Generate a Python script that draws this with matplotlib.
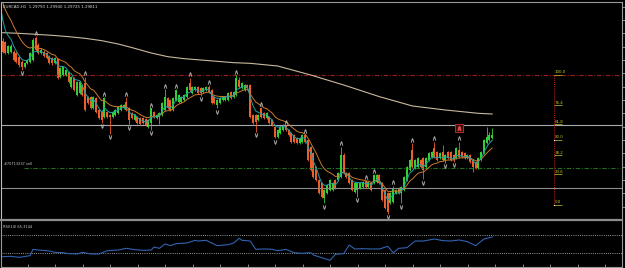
import matplotlib
matplotlib.use("Agg")
import matplotlib.pyplot as plt
import numpy as np
import pandas as pd
from matplotlib.ticker import MultipleLocator, FixedLocator

# ---------------- data ----------------
title_text = "EURCAD,H1  1.29790 1.29940 1.29725 1.29811"
rsi_text = "RSI(14) 65.3144"
order_text = "#70713237 sell"

open_ = [1.30938, 1.30935, 1.30900, 1.30905, 1.30905, 1.30900, 1.30890, 1.30875, 1.30860, 1.30870,
         1.30875, 1.30880, 1.30945, 1.30925, 1.30900, 1.30905, 1.30900, 1.30890, 1.30885, 1.30870,
         1.30882, 1.30830, 1.30835, 1.30835, 1.30845, 1.30800, 1.30825, 1.30775, 1.30780, 1.30805,
         1.30810, 1.30770, 1.30770, 1.30735, 1.30765, 1.30730, 1.30725, 1.30710, 1.30725, 1.30715,
         1.30710, 1.30715, 1.30720, 1.30730, 1.30735, 1.30755, 1.30735, 1.30720, 1.30700, 1.30710,
         1.30705, 1.30705, 1.30702, 1.30680, 1.30690, 1.30725, 1.30705, 1.30710, 1.30715, 1.30730,
         1.30765, 1.30760, 1.30730, 1.30760, 1.30755, 1.30755, 1.30760, 1.30770, 1.30810, 1.30780,
         1.30790, 1.30800, 1.30795, 1.30785, 1.30790, 1.30800, 1.30790, 1.30770, 1.30745, 1.30750,
         1.30760, 1.30760, 1.30760, 1.30785, 1.30770, 1.30775, 1.30820, 1.30795, 1.30790, 1.30805,
         1.30805, 1.30715, 1.30715, 1.30700, 1.30735, 1.30720, 1.30705, 1.30710, 1.30700, 1.30680,
         1.30650, 1.30660, 1.30670, 1.30682, 1.30670, 1.30660, 1.30655, 1.30645, 1.30630, 1.30635,
         1.30655, 1.30640, 1.30620, 1.30600, 1.30560, 1.30520, 1.30510, 1.30465, 1.30480, 1.30490,
         1.30490, 1.30520, 1.30520, 1.30530, 1.30595, 1.30540, 1.30540, 1.30520, 1.30485, 1.30490,
         1.30495, 1.30500, 1.30517, 1.30500, 1.30510, 1.30510, 1.30515, 1.30535, 1.30510, 1.30490,
         1.30480, 1.30450, 1.30455, 1.30480, 1.30495, 1.30480, 1.30490, 1.30520, 1.30550, 1.30610,
         1.30555, 1.30560, 1.30580, 1.30585, 1.30560, 1.30580, 1.30590, 1.30615, 1.30605, 1.30585,
         1.30605, 1.30580, 1.30605, 1.30605, 1.30595, 1.30585, 1.30610, 1.30605, 1.30600, 1.30585,
         1.30595, 1.30580, 1.30575, 1.30555, 1.30580, 1.30600, 1.30630, 1.30640, 1.30645]

high = [1.30945, 1.30938, 1.30925, 1.30928, 1.30910, 1.30903, 1.30895, 1.30880, 1.30875, 1.30883,
        1.30905, 1.30945, 1.30952, 1.30930, 1.30915, 1.30910, 1.30903, 1.30895, 1.30890, 1.30888,
        1.30885, 1.30860, 1.30863, 1.30853, 1.30848, 1.30833, 1.30828, 1.30818, 1.30818, 1.30808,
        1.30830, 1.30773, 1.30773, 1.30773, 1.30768, 1.30733, 1.30728, 1.30768, 1.30728, 1.30718,
        1.30728, 1.30733, 1.30743, 1.30748, 1.30748, 1.30768, 1.30738, 1.30723, 1.30718, 1.30713,
        1.30708, 1.30708, 1.30705, 1.30703, 1.30735, 1.30728, 1.30718, 1.30723, 1.30753, 1.30792,
        1.30768, 1.30763, 1.30768, 1.30792, 1.30778, 1.30773, 1.30778, 1.30803, 1.30827, 1.30803,
        1.30803, 1.30803, 1.30798, 1.30798, 1.30803, 1.30805, 1.30793, 1.30773, 1.30763, 1.30768,
        1.30773, 1.30773, 1.30783, 1.30788, 1.30788, 1.30835, 1.30828, 1.30813, 1.30808, 1.30808,
        1.30808, 1.30718, 1.30718, 1.30718, 1.30737, 1.30723, 1.30723, 1.30713, 1.30703, 1.30683,
        1.30673, 1.30683, 1.30688, 1.30685, 1.30673, 1.30663, 1.30658, 1.30648, 1.30648, 1.30658,
        1.30657, 1.30643, 1.30623, 1.30603, 1.30563, 1.30523, 1.30513, 1.30493, 1.30508, 1.30523,
        1.30513, 1.30523, 1.30543, 1.30620, 1.30600, 1.30545, 1.30543, 1.30523, 1.30513, 1.30513,
        1.30513, 1.30518, 1.30520, 1.30518, 1.30513, 1.30538, 1.30538, 1.30538, 1.30513, 1.30493,
        1.30483, 1.30483, 1.30503, 1.30493, 1.30498, 1.30503, 1.30533, 1.30563, 1.30583, 1.30630,
        1.30583, 1.30588, 1.30583, 1.30588, 1.30588, 1.30603, 1.30608, 1.30635, 1.30608, 1.30603,
        1.30625, 1.30598, 1.30608, 1.30608, 1.30598, 1.30618, 1.30635, 1.30608, 1.30603, 1.30598,
        1.30598, 1.30583, 1.30578, 1.30588, 1.30608, 1.30643, 1.30678, 1.30665, 1.30675]

low = [1.30902, 1.30897, 1.30897, 1.30902, 1.30877, 1.30872, 1.30860, 1.30850, 1.30857, 1.30867,
       1.30872, 1.30878, 1.30907, 1.30897, 1.30897, 1.30889, 1.30882, 1.30867, 1.30866, 1.30867,
       1.30822, 1.30827, 1.30832, 1.30832, 1.30812, 1.30797, 1.30787, 1.30772, 1.30777, 1.30772,
       1.30728, 1.30747, 1.30732, 1.30732, 1.30722, 1.30702, 1.30692, 1.30707, 1.30707, 1.30658,
       1.30707, 1.30712, 1.30717, 1.30727, 1.30732, 1.30727, 1.30685, 1.30702, 1.30697, 1.30687,
       1.30685, 1.30687, 1.30682, 1.30677, 1.30670, 1.30707, 1.30702, 1.30688, 1.30712, 1.30727,
       1.30732, 1.30727, 1.30727, 1.30757, 1.30752, 1.30752, 1.30757, 1.30767, 1.30787, 1.30777,
       1.30787, 1.30777, 1.30772, 1.30782, 1.30787, 1.30782, 1.30747, 1.30747, 1.30735, 1.30747,
       1.30757, 1.30757, 1.30757, 1.30762, 1.30767, 1.30772, 1.30797, 1.30792, 1.30787, 1.30792,
       1.30707, 1.30687, 1.30665, 1.30697, 1.30707, 1.30702, 1.30702, 1.30687, 1.30682, 1.30645,
       1.30647, 1.30657, 1.30667, 1.30667, 1.30652, 1.30632, 1.30632, 1.30627, 1.30627, 1.30632,
       1.30632, 1.30577, 1.30547, 1.30527, 1.30517, 1.30477, 1.30467, 1.30450, 1.30477, 1.30487,
       1.30487, 1.30492, 1.30517, 1.30527, 1.30537, 1.30527, 1.30507, 1.30487, 1.30482, 1.30470,
       1.30492, 1.30497, 1.30497, 1.30497, 1.30487, 1.30507, 1.30512, 1.30507, 1.30457, 1.30432,
       1.30419, 1.30447, 1.30452, 1.30477, 1.30477, 1.30450, 1.30487, 1.30517, 1.30547, 1.30557,
       1.30552, 1.30557, 1.30557, 1.30522, 1.30557, 1.30577, 1.30587, 1.30587, 1.30577, 1.30582,
       1.30577, 1.30572, 1.30582, 1.30577, 1.30575, 1.30582, 1.30587, 1.30587, 1.30582, 1.30582,
       1.30572, 1.30545, 1.30552, 1.30552, 1.30577, 1.30597, 1.30627, 1.30637, 1.30642]

close = [1.30905, 1.30900, 1.30922, 1.30922, 1.30880, 1.30875, 1.30865, 1.30860, 1.30872, 1.30880,
         1.30900, 1.30940, 1.30910, 1.30900, 1.30910, 1.30892, 1.30885, 1.30870, 1.30870, 1.30885,
         1.30825, 1.30855, 1.30860, 1.30850, 1.30815, 1.30830, 1.30790, 1.30815, 1.30815, 1.30775,
         1.30730, 1.30750, 1.30735, 1.30770, 1.30725, 1.30705, 1.30700, 1.30765, 1.30710, 1.30710,
         1.30725, 1.30730, 1.30740, 1.30745, 1.30745, 1.30730, 1.30700, 1.30705, 1.30715, 1.30690,
         1.30688, 1.30690, 1.30685, 1.30700, 1.30735, 1.30710, 1.30715, 1.30720, 1.30750, 1.30770,
         1.30735, 1.30730, 1.30765, 1.30790, 1.30775, 1.30770, 1.30775, 1.30800, 1.30790, 1.30800,
         1.30800, 1.30780, 1.30780, 1.30795, 1.30800, 1.30785, 1.30750, 1.30750, 1.30760, 1.30765,
         1.30770, 1.30770, 1.30780, 1.30765, 1.30785, 1.30825, 1.30800, 1.30810, 1.30805, 1.30795,
         1.30710, 1.30690, 1.30695, 1.30715, 1.30710, 1.30705, 1.30720, 1.30690, 1.30685, 1.30650,
         1.30670, 1.30680, 1.30685, 1.30670, 1.30655, 1.30635, 1.30635, 1.30630, 1.30645, 1.30655,
         1.30635, 1.30580, 1.30550, 1.30530, 1.30520, 1.30480, 1.30470, 1.30490, 1.30505, 1.30520,
         1.30510, 1.30495, 1.30540, 1.30595, 1.30540, 1.30530, 1.30510, 1.30490, 1.30510, 1.30510,
         1.30510, 1.30515, 1.30500, 1.30515, 1.30490, 1.30535, 1.30535, 1.30510, 1.30460, 1.30435,
         1.30425, 1.30480, 1.30495, 1.30490, 1.30480, 1.30500, 1.30530, 1.30560, 1.30580, 1.30560,
         1.30580, 1.30585, 1.30560, 1.30550, 1.30585, 1.30600, 1.30605, 1.30590, 1.30580, 1.30600,
         1.30580, 1.30595, 1.30585, 1.30580, 1.30580, 1.30615, 1.30590, 1.30590, 1.30585, 1.30595,
         1.30575, 1.30560, 1.30555, 1.30585, 1.30605, 1.30640, 1.30650, 1.30655, 1.30655]

# moving averages (fast / medium EMAs start from the level before the first visible bar)
fast_ma_seed = 1.31050
mid_ma_seed = 1.31080
fast_ma_span = 5
mid_ma_span = 12

# slow moving average read at sample bars
slow_ma_idx = [0, 6, 12, 18, 24, 30, 36, 42, 48, 54, 60, 66, 72, 78, 84, 90, 100, 112, 124, 137,
               149, 161, 173, 178]
slow_ma_val = [1.30962, 1.30960, 1.30957, 1.30954, 1.30950, 1.30945, 1.30938, 1.30928, 1.30915,
               1.30901, 1.30890, 1.30884, 1.30880, 1.30876, 1.30872, 1.30870, 1.30862, 1.30835,
               1.30805, 1.30770, 1.30742, 1.30730, 1.30720, 1.30718]

# fractals (bar indices)
fractal_up = [12, 30, 37, 45, 54, 59, 63, 68, 75, 85, 94, 103, 110, 123, 132, 135, 142, 149, 157, 166]
fractal_down = [7, 36, 39, 46, 54, 72, 78, 92, 99, 117, 129, 140, 145, 153, 161, 164]

# horizontal levels
stop_level = 1.30836
order_level = 1.30557
hline_levels = [1.30685, 1.30496]

# fibonacci object
fib_high = 1.30836
fib_low = 1.30445
fib_bar = 200.5
fib_ratios = [100.0, 76.4, 61.8, 50.0, 38.2, 23.6, 0.0]

# alert box
alert_bar = 166
alert_price = 1.30675

# RSI samples
rsi_idx = [0, 3, 6, 10, 11, 13, 17, 19, 22, 24, 27, 29, 32, 35, 38, 42, 45, 48, 51, 54, 55, 57, 59,
           61, 63, 67, 70, 71, 74, 76, 78, 82, 84, 86, 87, 90, 92, 95, 98, 100, 103, 106, 109, 112,
           113, 116, 119, 121, 124, 126, 128, 131, 134, 137, 140, 142, 144, 147, 150, 153, 157, 160,
           163, 166, 169, 172, 175, 178]
rsi_val = [22.5, 23.3, 21.0, 24.7, 38.8, 37.3, 35.1, 32.1, 31.4, 29.2, 28.4, 32.1, 28.4, 28.4, 35.8,
           37.3, 41.0, 38.1, 36.6, 37.3, 44.0, 41.0, 50.7, 47.0, 51.4, 52.9, 58.8, 57.3, 58.8, 52.9,
           47.0, 49.2, 52.9, 63.3, 58.8, 57.3, 38.8, 39.6, 39.0, 35.8, 38.8, 31.4, 29.9, 31.4, 26.2,
           20.3, 14.4, 27.7, 29.2, 48.4, 39.6, 40.3, 39.6, 39.6, 45.5, 31.4, 41.0, 42.5, 57.3, 57.3,
           61.8, 58.1, 57.3, 59.6, 55.8, 47.0, 61.8, 66.2]
rsi_levels = [70, 30]

# ---------------- style ----------------
BG = "black"
BULL = "#34cf34"
BEAR = "#ec5f2a"
FAST_C = "#1fa0a6"
MID_C = "#c87a2e"
SLOW_C = "#c9b99c"
FRACTAL_GAP = 0.00010

o = np.array(open_); h = np.array(high); l = np.array(low); c = np.array(close)
n = len(c)
idx = np.arange(n)

fig = plt.figure(figsize=(6.25, 2.68), dpi=100, facecolor=BG)
ax = fig.add_axes([1 / 625, 49 / 268, 621 / 625, 217 / 268])
ax.set_facecolor(BG)
ax.set_xlim(-0.618, 225.2)
ax.set_ylim(1.30403, 1.31054)

# horizontal lines
ax.hlines(stop_level, -0.6, 224.5, colors="#9c1c1c", lw=0.8, linestyles=(0, (4, 1.5, 1, 1.5)))
ax.hlines(order_level, 7.8, 224.5, colors="#1f6f1f", lw=0.8, linestyles=(0, (4, 1.5, 1, 1.5)))
ax.axhline(hline_levels[0], color="#a4acb0", lw=0.8)
ax.axhline(hline_levels[1], color="#8c8c8c", lw=0.8)

# slow MA
ax.plot(slow_ma_idx, slow_ma_val, color=SLOW_C, lw=0.8)

# candles
bull = c >= o
cols = np.where(bull, BULL, BEAR)
ax.vlines(idx, l, h, colors=cols, lw=0.6)
ax.bar(idx, np.abs(c - o), bottom=np.minimum(o, c), width=0.7, color=cols, linewidth=0)

# EMAs
fast = pd.Series([fast_ma_seed] + close).ewm(span=fast_ma_span, adjust=False).mean()
mid = pd.Series([mid_ma_seed] + close).ewm(span=mid_ma_span, adjust=False).mean()
xe = np.arange(-1, n)
ax.plot(xe, mid, color=MID_C, lw=0.7)
ax.plot(xe, fast, color=FAST_C, lw=0.7)

# fractals
ax.plot(fractal_up, h[fractal_up] + FRACTAL_GAP, ls="none", marker=r"$\wedge$", ms=2.8,
        color="#b4b4b4", mew=0.2)
ax.plot(fractal_down, l[fractal_down] - FRACTAL_GAP, ls="none", marker=r"$\vee$", ms=2.8,
        color="#b4b4b4", mew=0.2)

# alert box
ax.plot([alert_bar], [alert_price], marker="s", ms=6.0, mfc="#3e0a0a", mec="#b82a2a", mew=0.7, ls="none")
ax.plot([alert_bar], [alert_price], marker=r"$\wedge$", ms=2.4, color="#d84848", ls="none")

# fibonacci
fib_prices = [fib_low + r / 100 * (fib_high - fib_low) for r in fib_ratios]
ax.vlines(fib_bar, fib_low, fib_high, colors="#b01c1c", lw=0.7, linestyles=(0, (1, 1)))
for r, p in zip(fib_ratios, fib_prices):
    ax.hlines(p, fib_bar, fib_bar + 3.0, colors="#c8c82a", lw=0.5)
    ax.text(fib_bar + 0.2, p + 0.00002, f"{r:.1f}", color="#c8c82a", fontsize=2.9,
            ha="left", va="bottom")
ax.plot([fib_bar, fib_bar], [fib_prices[3], fib_low], ls="none", marker="s", ms=0.8,
        color="white", mew=0)

# texts
ax.text(0.003, 0.985, title_text, transform=ax.transAxes, color="#d8d8d8", fontsize=2.9,
        ha="left", va="top")
ax.text(0.5, order_level + 0.00004, order_text, color="#d0d0d0", fontsize=2.5, ha="left", va="bottom")

# main axes frame
for s in ["top", "left", "right", "bottom"]:
    ax.spines[s].set_color("#9a9a9a")
    ax.spines[s].set_linewidth(0.8)
ax.spines["bottom"].set_visible(False)
ax.spines["left"].set_color("#bdbdbd")
ax.yaxis.tick_right()
ax.yaxis.set_major_locator(MultipleLocator(0.0004))
ax.tick_params(axis="y", direction="out", length=2, width=0.6, color="#a0a0a0",
               labelright=False, labelleft=False)
ax.set_xticks([])

# RSI panel
rax = fig.add_axes([1 / 625, 1.2 / 268, 621 / 625, 46.5 / 268])
rax.set_facecolor(BG)
rax.set_xlim(-0.618, 225.2)
rax.set_ylim(0, 103.3)
for lv in rsi_levels:
    rax.axhline(lv, color="#c8c8c8", lw=0.6, ls=(0, (1, 1.6)))
rax.plot(rsi_idx, rsi_val, color="#3262b0", lw=0.8)
rax.text(0.003, 0.86, rsi_text, transform=rax.transAxes, color="#d0d0d0", fontsize=2.6,
         ha="left", va="center")
for s in ["top", "left", "right", "bottom"]:
    rax.spines[s].set_color("#9a9a9a")
    rax.spines[s].set_linewidth(0.8)
rax.spines["top"].set_linewidth(1.6)
rax.spines["top"].set_color("#8c8c8c")
rax.xaxis.set_major_locator(FixedLocator(np.arange(9.2, 225, 10)))
rax.tick_params(axis="x", direction="in", length=2, width=0.6, color="#a0a0a0", labelbottom=False)
rax.set_yticks([])

fig.savefig("out.png", dpi=100, facecolor=BG)
